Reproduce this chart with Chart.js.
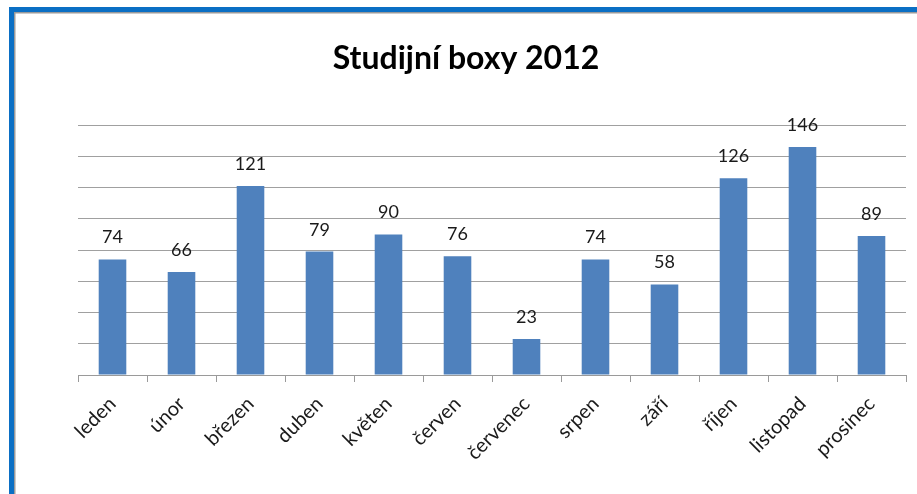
<!DOCTYPE html>
<html lang="cs">
<head>
<meta charset="UTF-8">
<title>Studijní boxy 2012</title>
<script src="https://cdn.jsdelivr.net/npm/chart.js"></script>
<style>
  html, body { margin: 0; padding: 0; background: #fff; }
  #wrap { width: 917px; height: 494px; }
</style>
</head>
<body>
<div id="wrap"><canvas id="myChart" width="917" height="494"></canvas></div>
<script>
  // data
  const months = ['leden', 'únor', 'březen', 'duben', 'květen', 'červen',
    'červenec', 'srpen', 'září', 'říjen', 'listopad', 'prosinec'];
  const boxes = [74, 66, 121, 79, 90, 76, 23, 74, 58, 126, 146, 89];
  const yMax = 160;
  const yStep = 20;

  // blue frame round the chart, like the copied office chart
  const framePlugin = {
    id: 'frame',
    beforeDraw: (chart) => {
      const ctx = chart.ctx;
      ctx.save();
      ctx.fillStyle = '#fff';
      ctx.fillRect(0, 0, chart.width, chart.height);
      ctx.fillStyle = '#0B6FC4';
      ctx.fillRect(9, 7, chart.width - 9, 5);
      ctx.fillRect(9, 7, 5, chart.height - 7);
      ctx.fillStyle = '#9a9a9a';
      ctx.fillRect(14, 12, chart.width - 14, 1.5);
      ctx.fillRect(14, 12, 1.5, chart.height - 12);
      ctx.restore();
    }
  };

  // value labels over the bars
  const valuePlugin = {
    id: 'values',
    afterDatasetsDraw: (chart) => {
      const ctx = chart.ctx;
      const meta = chart.getDatasetMeta(0);
      ctx.save();
      ctx.font = '18px Lato';
      ctx.fillStyle = '#1a1a1a';
      ctx.textAlign = 'center';
      ctx.textBaseline = 'alphabetic';
      meta.data.forEach((bar, i) => {
        ctx.fillText(String(boxes[i]), bar.x, bar.y - 16);
      });
      ctx.restore();
    }
  };

  const ctx = document.getElementById('myChart').getContext('2d');
  new Chart(ctx, {
    type: 'bar',
    data: {
      labels: months,
      datasets: [{
        label: 'Studijní boxy',
        data: boxes,
        backgroundColor: '#4F81BD',
        barPercentage: 0.4,
        categoryPercentage: 1
      }]
    },
    options: {
      responsive: false,
      animation: false,
      layout: { padding: { left: 26, right: 11, top: 0, bottom: 0 } },
      plugins: {
        legend: { display: false },
        tooltip: { enabled: false },
        title: {
          display: true,
          text: 'Studijní boxy 2012',
          color: '#000',
          font: { family: 'Lato', size: 32, weight: 'bold', lineHeight: 1.2 },
          padding: { top: 39, bottom: 47.6 }
        }
      },
      scales: {
        x: {
          grid: {
            offset: true,
            drawOnChartArea: false,
            drawTicks: true,
            tickLength: 7,
            color: '#9a9a9a'
          },
          border: { display: true, color: '#9a9a9a' },
          ticks: {
            minRotation: 45,
            maxRotation: 45,
            color: '#1a1a1a',
            padding: 10,
            font: { family: 'Lato', size: 20 }
          },
          afterFit: (s) => { s.height = 119; }
        },
        y: {
          min: 0,
          max: yMax,
          ticks: { display: false, stepSize: yStep },
          grid: { color: '#a0a0a0', drawTicks: false },
          border: { display: false },
          afterFit: (s) => { s.width = 52; }
        }
      }
    },
    plugins: [framePlugin, valuePlugin]
  });
</script>
</body>
</html>
